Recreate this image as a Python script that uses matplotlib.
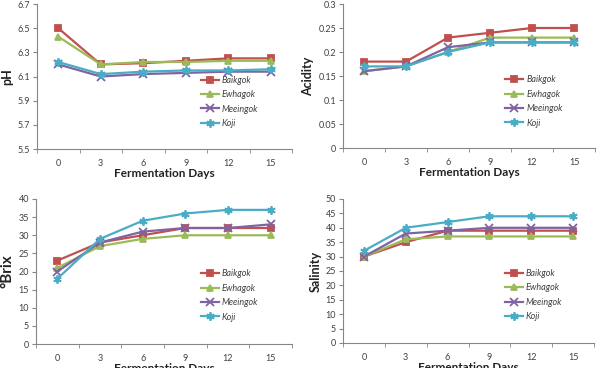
import matplotlib
matplotlib.use("Agg")
import matplotlib.pyplot as plt
import numpy as np

plt.rcParams["font.family"] = ["Lato", "DejaVu Sans"]

days = ["0", "3", "6", "9", "12", "15"]
series_names = ["Baikgok", "Ewhagok", "Meeingok", "Koji"]

ph_baikgok = [6.50, 6.20, 6.21, 6.23, 6.25, 6.25]
ph_ewhagok = [6.43, 6.20, 6.22, 6.22, 6.23, 6.23]
ph_meeingok = [6.20, 6.10, 6.12, 6.13, 6.14, 6.14]
ph_koji = [6.22, 6.12, 6.14, 6.15, 6.15, 6.16]

acid_baikgok = [0.18, 0.18, 0.23, 0.24, 0.25, 0.25]
acid_ewhagok = [0.16, 0.17, 0.20, 0.23, 0.23, 0.23]
acid_meeingok = [0.16, 0.17, 0.21, 0.22, 0.22, 0.22]
acid_koji = [0.17, 0.17, 0.20, 0.22, 0.22, 0.22]

brix_baikgok = [23, 28, 30, 32, 32, 32]
brix_ewhagok = [21, 27, 29, 30, 30, 30]
brix_meeingok = [20, 28, 31, 32, 32, 33]
brix_koji = [18, 29, 34, 36, 37, 37]

sal_baikgok = [30, 35, 39, 39, 39, 39]
sal_ewhagok = [30, 36, 37, 37, 37, 37]
sal_meeingok = [30, 38, 39, 40, 40, 40]
sal_koji = [32, 40, 42, 44, 44, 44]

colors = ["#C0504D", "#9BBB59", "#8064A2", "#4BACC6"]
markers = ["s", "^", "x", (6, 2, 0)]
axis_grey = "#868686"
text_grey = "#404040"

W, H = 601, 368
fig = plt.figure(figsize=(W / 100, H / 100), dpi=100)


def px_axes(left, top, right, bottom):
    return fig.add_axes([left / W, 1 - bottom / H, (right - left) / W, (bottom - top) / H])


panels = [
    # (pixel box, data, ylim, yticks, ylabel, label size, legend top)
    ((37, 4, 292, 149), [ph_baikgok, ph_ewhagok, ph_meeingok, ph_koji],
     (5.5, 6.7), np.arange(5.5, 6.71, 0.2), "pH", 9, 0.53),
    ((343, 4, 595, 148), [acid_baikgok, acid_ewhagok, acid_meeingok, acid_koji],
     (0, 0.3), np.arange(0, 0.301, 0.05), "Acidity", 9, 0.53),
    ((36, 199, 292, 344), [brix_baikgok, brix_ewhagok, brix_meeingok, brix_koji],
     (0, 40), np.arange(0, 41, 5), "°Brix", 11, 0.54),
    ((343, 199, 594, 343), [sal_baikgok, sal_ewhagok, sal_meeingok, sal_koji],
     (0, 50), np.arange(0, 51, 5), "Salinity", 9, 0.54),
]

x = np.arange(len(days))

for box, data, ylim, yticks, ylabel, lsize, leg_top in panels:
    ax = px_axes(*box)
    for vals, name, c, m in zip(data, series_names, colors, markers):
        ms = 5 if m in ("s", "^") else 6
        ax.plot(x, vals, color=c, lw=1.6, marker=m, ms=ms, mew=1.3,
                mfc=c, mec=c, label=name)

    ax.set_xlim(-0.5, len(days) - 0.5)
    ax.set_ylim(*ylim)
    ax.set_xticks(x)
    ax.set_xticklabels(days)
    ax.set_xticks(np.arange(-0.5, len(days)), minor=True)
    ax.tick_params(axis="x", which="major", length=0, pad=7,
                   labelsize=6.5, labelcolor=text_grey)
    ax.tick_params(axis="x", which="minor", length=3, color=axis_grey, direction="out")
    ax.set_yticks(yticks)
    ax.set_yticklabels([f"{v:g}" for v in np.round(yticks, 2)])
    ax.tick_params(axis="y", length=3, color=axis_grey, labelsize=6.5,
                   labelcolor=text_grey, pad=2)

    for side in ("top", "right"):
        ax.spines[side].set_visible(False)
    for side in ("left", "bottom"):
        ax.spines[side].set_color(axis_grey)
        ax.spines[side].set_linewidth(0.8)

    ax.set_xlabel("Fermentation Days", fontsize=8.5, fontweight="bold",
                  color="#222222", labelpad=0)
    ax.set_ylabel(ylabel, fontsize=lsize, fontweight="bold", color="#222222",
                  labelpad=3)

    leg = ax.legend(loc="upper left", bbox_to_anchor=(0.63, leg_top), frameon=False,
                    fontsize=6.5, handlelength=2.0, handletextpad=0.3,
                    labelspacing=0.6, borderaxespad=0)
    for t in leg.get_texts():
        t.set_fontstyle("italic")
        t.set_color(text_grey)

fig.savefig("out.png", dpi=100)
